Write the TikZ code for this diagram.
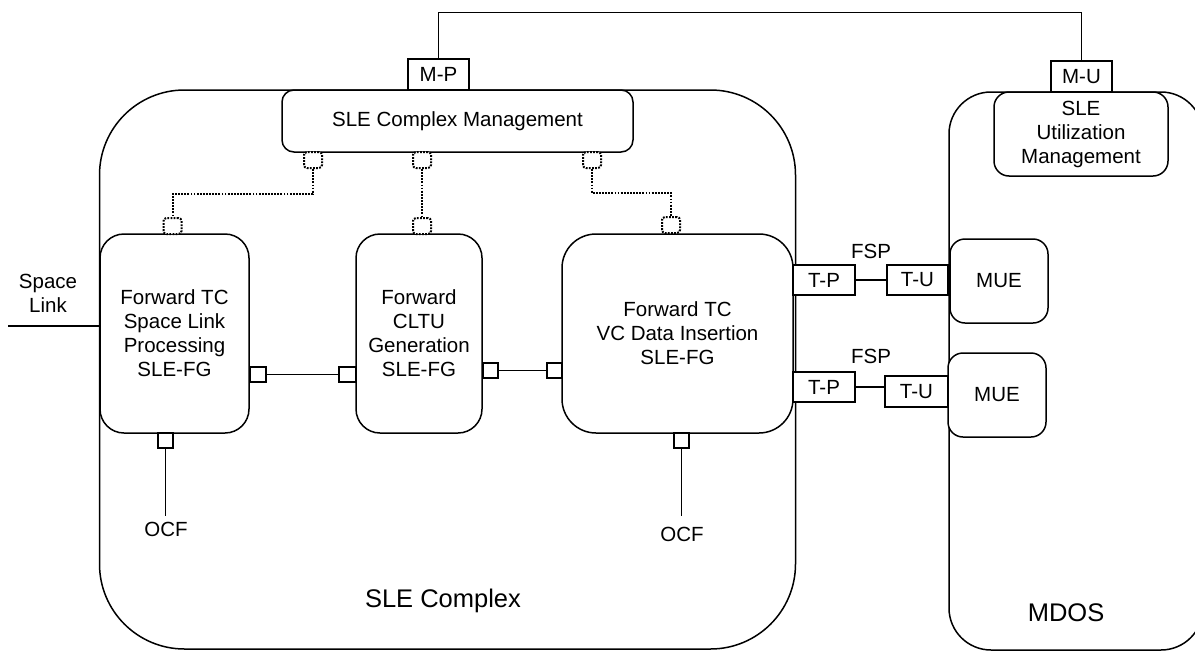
\documentclass[tikz,border=0pt]{standalone}
\usepackage{fontspec}
\setmainfont{Liberation Sans}
\begin{document}
\begin{tikzpicture}[x=1pt,y=-1pt,line width=1.5pt,
  lbl/.style={font=\fontsize{20.5}{24}\selectfont,align=center,inner sep=0pt},
  big/.style={font=\fontsize{25.5}{30}\selectfont,inner sep=0pt},
  bx/.style={draw,lbl,fill=white},
  rbox/.style={bx,rounded corners=#1},
  sqport/.style={draw,fill=white,inner sep=0pt,minimum width=15pt,minimum height=15pt},
  dport/.style={draw,fill=white,inner sep=0pt,minimum width=18pt,minimum height=16pt,dotline,rounded corners=3pt},
  dotline/.style={line width=2pt,dash pattern=on 1.8pt off 1.3pt}]
\useasboundingbox (0,0) rectangle (1195,651);
% outer containers
\node[draw,rounded corners=85pt,minimum width=696pt,minimum height=559pt,inner sep=0pt] (slec) at (447.5,369.5) {};
\node[big] (slect) at (443,601) {SLE Complex};
\node[draw,rounded corners=42pt,minimum width=254pt,minimum height=558pt,inner sep=0pt] (mdos) at (1076,371) {};
\node[big] (mdost) at (1066,613) {MDOS};
% management
\node[rbox=12pt,minimum width=351pt,minimum height=62pt] (mgmt) at (457.5,121) {SLE Complex Management};
\node[bx,minimum width=61pt,minimum height=31pt] (mp) at (438.5,74.5) {M-P};
\node[rbox=15pt,minimum width=174pt,minimum height=84pt] (util) at (1081,134) {SLE\\Utilization\\Management};
\node[bx,minimum width=61pt,minimum height=31pt] (mu) at (1081.5,76.5) {M-U};
\draw (mp.north) -- ++(0,-46) -| (mu.north);
% functional groups
\node[rbox=24pt,minimum width=149pt,minimum height=199pt] (fg1) at (174.5,333.5) {Forward TC\\Space Link\\Processing\\SLE-FG};
\node[rbox=24pt,minimum width=126pt,minimum height=199pt] (fg2) at (419,333.5) {Forward\\CLTU\\Generation\\SLE-FG};
\node[rbox=34pt,minimum width=231pt,minimum height=199pt] (fg3) at (677.5,333.5) {Forward TC\\VC Data Insertion\\SLE-FG};
% solid ports
\node[sqport,minimum width=16pt] (p1r) at (258,374.5) {};
\node[sqport,minimum width=17pt] (p2l) at (347.5,374.5) {};
\node[sqport] (p2r) at (490.5,370.5) {};
\node[sqport] (p3l) at (554.5,370.5) {};
\node[sqport] (p1b) at (165.5,440.5) {};
\node[sqport] (p3b) at (681.5,440.5) {};
\draw (p1r) -- (p2l);
\draw (p2r) -- (p3l);
\coordinate (o1) at (165.5,516);
\coordinate (o3) at (681.5,516);
\draw (p1b.south) -- (o1);
\draw (p3b.south) -- (o3);
\node[lbl] (ocf1) at (166,529) {OCF};
\node[lbl] (ocf3) at (682,534) {OCF};
% dotted management ports
\node[dport] (m1) at (313,160) {};
\node[dport] (m2) at (422,160) {};
\node[dport] (m3) at (592,160) {};
\node[dport] (f1t) at (172.5,226) {};
\node[dport] (f2t) at (422,226) {};
\node[dport] (f3t) at (671,225) {};
\draw[dotline] (m1.south) -- ++(0,25) -| (f1t.north);
\draw[dotline] (m2.south) -- (f2t.north);
\draw[dotline] (m3.south) -- ++(0,24) -| (f3t.north);
% space link
\node[lbl] (sltext) at (48,293.5) {Space\\Link};
\coordinate (sl) at (8,326);
\draw (sl) -- (sl -| slec.west);
% transfer service ports
\node[bx,minimum width=62pt,minimum height=30pt] (tp1) at (824,280) {T-P};
\node[bx,minimum width=61pt,minimum height=30pt] (tu1) at (917.5,280) {T-U};
\node[bx,minimum width=62pt,minimum height=30pt] (tp2) at (824,387) {T-P};
\node[bx,minimum width=63pt,minimum height=31pt] (tu2) at (916.5,391.5) {T-U};
\draw (tp1) -- (tu1);
\draw (tp2.east) -- (tp2.east -| tu2.west);
\node[lbl] (fsp1) at (871,251) {FSP};
\node[lbl] (fsp2) at (871,356) {FSP};
\node[rbox=15pt,minimum width=98pt,minimum height=84pt] (mue1) at (999,281) {MUE};
\node[rbox=15pt,minimum width=98pt,minimum height=84pt] (mue2) at (997,395) {MUE};
\end{tikzpicture}
\end{document}
